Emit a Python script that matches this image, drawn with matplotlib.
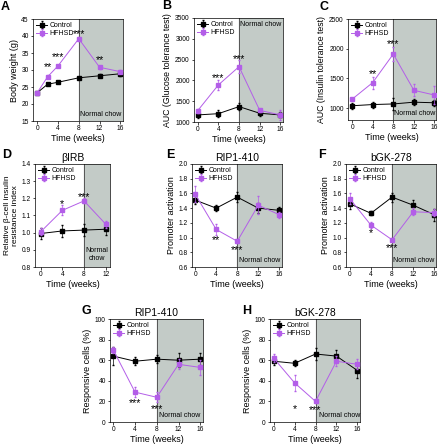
import matplotlib
matplotlib.use("Agg")
import matplotlib.pyplot as plt

# ---- data ----
x_a = [0, 2, 4, 8, 12, 16]
a_ctrl = [23.3, 25.8, 26.4, 27.7, 28.3, 28.9]
a_ctrl_err = [0.3, 0.3, 0.3, 0.3, 0.4, 0.6]
a_hf = [23.3, 28.0, 31.2, 39.2, 30.8, 29.5]
a_hf_err = [0.3, 0.4, 0.4, 0.6, 0.4, 0.4]

x5 = [0, 4, 8, 12, 16]
b_ctrl = [1170, 1200, 1370, 1210, 1170]
b_ctrl_err = [70, 80, 80, 60, 60]
b_hf = [1270, 1890, 2330, 1280, 1170]
b_hf_err = [50, 120, 150, 40, 110]

c_ctrl = [1040, 1060, 1070, 1100, 1090]
c_ctrl_err = [50, 50, 100, 50, 50]
c_hf = [1150, 1430, 1910, 1300, 1220]
c_hf_err = [20, 100, 120, 100, 150]

x_d = [0, 4, 8, 12]
d_ctrl = [0.995, 1.01, 1.015, 1.02]
d_ctrl_err = [0.03, 0.035, 0.035, 0.035]
d_hf = [1.005, 1.13, 1.185, 1.05]
d_hf_err = [0.02, 0.03, 0.015, 0.02]

e_ctrl = [1.51, 1.40, 1.55, 1.40, 1.37]
e_ctrl_err = [0.06, 0.04, 0.07, 0.07, 0.04]
e_hf = [1.59, 1.11, 0.95, 1.44, 1.31]
e_hf_err = [0.11, 0.07, 0.03, 0.12, 0.04]

f_ctrl = [1.46, 1.33, 1.55, 1.44, 1.31]
f_ctrl_err = [0.07, 0.03, 0.06, 0.07, 0.08]
f_hf = [1.53, 1.17, 0.97, 1.35, 1.34]
f_hf_err = [0.08, 0.04, 0.02, 0.05, 0.05]

g_ctrl = [64, 59, 61, 60, 61]
g_ctrl_err = [9, 4, 4, 7, 6]
g_hf = [70, 29, 24, 56, 53]
g_hf_err = [3, 5, 5, 5, 7]

h_ctrl = [59, 57, 66, 64, 50]
h_ctrl_err = [4, 3, 6, 6, 7]
h_hf = [62, 38, 20, 59, 56]
h_hf_err = [4, 8, 2, 5, 5]

ctrl_col = "black"
hf_col = "#b35ee8"
shade_col = "#c3cbc7"

W, H = 438, 444
fig = plt.figure(figsize=(W / 100, H / 100), dpi=100)
plt.rcParams["font.family"] = "Liberation Sans"


def make_ax(l, t, r, b):
    return fig.add_axes([l / W, 1 - b / H, (r - l) / W, (b - t) / H])


def panel(ax, x, ctrl, ctrl_err, hf, hf_err, xlim, ylim, yticks, xticks,
          ylabel, title=None, chow_top=False, chow_text="Normal chow",
          chow_y=None, chow_x=None, stars=(), ylab_size=6.5):
    ax.axvspan(8, xlim[1], color=shade_col, zorder=0)
    ax.axvline(8, color="#555555", lw=0.7, zorder=1)
    ax.errorbar(x, ctrl, yerr=ctrl_err, color=ctrl_col, marker="s", ms=2.5,
                lw=0.7, elinewidth=0.5, capsize=1.0, label="Control", zorder=3)
    ax.errorbar(x, hf, yerr=hf_err, color=hf_col, marker="s", ms=2.5,
                lw=0.7, elinewidth=0.5, capsize=1.0, label="HFHSD", zorder=4)
    ax.set_xlim(*xlim)
    ax.set_ylim(*ylim)
    ax.set_xticks(xticks)
    ax.set_yticks(yticks)
    ax.tick_params(labelsize=4.8, length=1.8, width=0.5, pad=1.2)
    for s in ax.spines.values():
        s.set_linewidth(0.5)
    ax.set_xlabel("Time (weeks)", fontsize=6.5, labelpad=1)
    ax.set_ylabel(ylabel, fontsize=ylab_size, labelpad=2)
    if title:
        ax.set_title(title, fontsize=7.5, pad=2)
    cx = (8 + xlim[1]) / 2 if chow_x is None else chow_x
    if chow_y is None:
        yy = ylim[1] - 0.03 * (ylim[1] - ylim[0]) if chow_top else ylim[0] + 0.03 * (ylim[1] - ylim[0])
    else:
        yy = chow_y
    va = "top" if chow_top else "bottom"
    ax.text(cx, yy, chow_text, fontsize=5, ha="center", va=va, zorder=5)
    for sx, sy, st in stars:
        ax.text(sx, sy, st, fontsize=7.8, ha="center", va="center", zorder=5)
    ax.legend(loc="upper left", fontsize=5, frameon=False, handlelength=1.6,
              borderaxespad=0.25, labelspacing=0.15, handletextpad=0.3,
              borderpad=0.2)


# A
ax = make_ax(33, 19, 123, 121)
panel(ax, x_a, a_ctrl, a_ctrl_err, a_hf, a_hf_err, (-0.8, 16.5), (15, 45),
      range(15, 46, 5), [0, 4, 8, 12, 16], "Body weight (g)",
      stars=[(2, 30.8, "**"), (4, 33.8, "***"), (8, 40.6, "***"), (12, 32.9, "**")])

# B
ax = make_ax(194, 18, 283, 122)
panel(ax, x5, b_ctrl, b_ctrl_err, b_hf, b_hf_err, (-0.7, 16.5), (1000, 3500),
      range(1000, 3501, 500), [0, 4, 8, 12, 16], "AUC (Glucose tolerance test)",
      chow_top=True, stars=[(4, 2060, "***"), (8, 2520, "***")], ylab_size=6.3)

# C
ax = make_ax(348, 19, 436, 120)
panel(ax, x5, c_ctrl, c_ctrl_err, c_hf, c_hf_err, (-0.8, 16.3), (800, 2500),
      range(1000, 2501, 500), [0, 4, 8, 12, 16], "AUC (Insulin tolerance test)",
      stars=[(4, 1580, "**"), (8, 2070, "***")], ylab_size=6.3)

# D
ax = make_ax(35, 164, 110, 267)
panel(ax, x_d, d_ctrl, d_ctrl_err, d_hf, d_hf_err, (-1.05, 12.8), (0.8, 1.4),
      [0.8, 0.9, 1.0, 1.1, 1.2, 1.3, 1.4], [0, 4, 8, 12],
      "Relative \u03b2-cell insulin\nresistance index", title="\u03b2IRB",
      chow_text="Normal\nchow", chow_y=0.83,
      stars=[(4, 1.165, "*"), (8, 1.21, "***")], ylab_size=6.0)

# E
ax = make_ax(192, 164, 282, 267)
panel(ax, x5, e_ctrl, e_ctrl_err, e_hf, e_hf_err, (-0.6, 16.5), (0.6, 2.0),
      [0.6, 0.8, 1.0, 1.2, 1.4, 1.6, 1.8, 2.0], [0, 4, 8, 12, 16],
      "Promoter activation", title="RIP1-410",
      stars=[(4, 0.96, "**"), (8, 0.83, "***")])

# F
ax = make_ax(346, 164, 436, 267)
panel(ax, x5, f_ctrl, f_ctrl_err, f_hf, f_hf_err, (-0.7, 16.3), (0.6, 2.0),
      [0.6, 0.8, 1.0, 1.2, 1.4, 1.6, 1.8, 2.0], [0, 4, 8, 12, 16],
      "Promoter activation", title="bGK-278",
      stars=[(4, 1.06, "*"), (8, 0.86, "***")])

# G
ax = make_ax(110, 319, 203, 422)
panel(ax, x5, g_ctrl, g_ctrl_err, g_hf, g_hf_err, (-0.6, 16.5), (0, 100),
      range(0, 101, 20), [0, 4, 8, 12, 16], "Responsive cells (%)",
      title="RIP1-410", stars=[(4, 18, "***"), (8, 13, "***")])

# H
ax = make_ax(270, 319, 360, 422)
panel(ax, x5, h_ctrl, h_ctrl_err, h_hf, h_hf_err, (-0.7, 16.5), (0, 100),
      range(0, 101, 20), [0, 4, 8, 12, 16], "Responsive cells (%)",
      title="bGK-278", chow_x=12.6, stars=[(4, 13, "*"), (8, 12, "***")])

for lab, px, py in [("A", 1, 7), ("B", 162, 6), ("C", 320, 7),
                    ("D", 2, 155), ("E", 166, 155), ("F", 318, 155),
                    ("G", 82, 311), ("H", 242, 311)]:
    fig.text(px / W, 1 - py / H, lab, fontsize=9, fontweight="bold",
             ha="left", va="center")

fig.savefig("out.png", dpi=100)
